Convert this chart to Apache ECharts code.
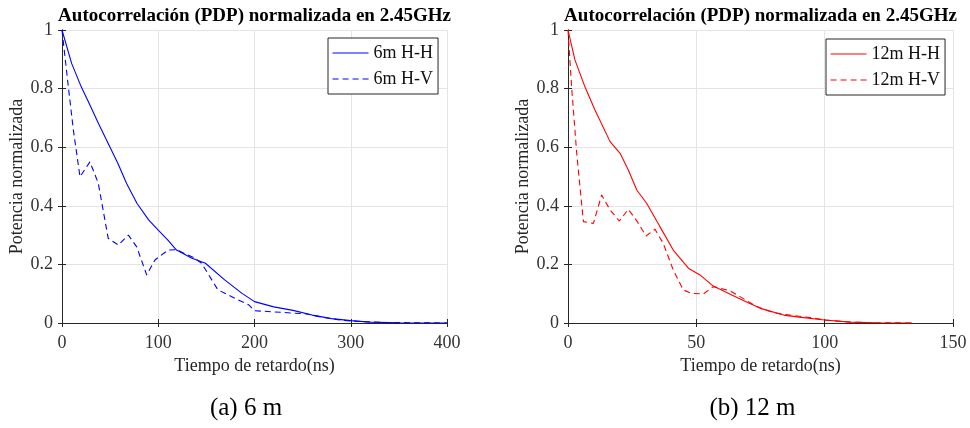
<!DOCTYPE html>
<html>
<head>
<meta charset="utf-8">
<script src="https://cdn.jsdelivr.net/npm/echarts@6/dist/echarts.min.js"></script>
<style>
html,body{margin:0;padding:0;background:#fff;}
#chart{width:970px;height:428px;}
</style>
</head>
<body>
<div id="chart"></div>
<script>
// ---- Data ----
const titleText = 'Autocorrelación (PDP) normalizada en 2.45GHz';
const xLabel = 'Tiempo de retardo(ns)';
const yLabel = 'Potencia normalizada';
const captionA = '(a) 6 m';
const captionB = '(b) 12 m';

const x6HH = [0, 10, 20, 29, 38, 48, 58, 67, 78, 90, 100, 110, 119, 135, 149, 169, 187, 200, 220, 240, 260, 280, 300, 320, 350, 400];
const y6HH = [1, 0.886, 0.806, 0.744, 0.68, 0.613, 0.545, 0.477, 0.408, 0.352, 0.317, 0.283, 0.249, 0.221, 0.204, 0.147, 0.101, 0.073, 0.055, 0.043, 0.027, 0.015, 0.008, 0.003, 0.001, 0];

const x6HV = [0, 6.6, 11.8, 18.7, 29, 37.7, 48, 58.5, 69, 77.6, 88, 96.6, 110, 119, 138, 145, 162, 180, 194, 200, 220, 254, 270, 289, 300, 330, 400];
const y6HV = [1, 0.806, 0.659, 0.499, 0.55, 0.477, 0.289, 0.266, 0.30, 0.26, 0.164, 0.215, 0.249, 0.25, 0.221, 0.204, 0.113, 0.084, 0.062, 0.042, 0.038, 0.031, 0.020, 0.010, 0.007, 0.002, 0];

const x12HH = [0, 2.7, 6.6, 10.5, 16.4, 20.3, 23.5, 26.8, 30.7, 35.8, 41, 46.9, 51.4, 56.6, 64, 70, 75, 84, 90, 100, 110, 120, 134];
const y12HH = [1, 0.898, 0.806, 0.727, 0.619, 0.579, 0.522, 0.454, 0.408, 0.329, 0.249, 0.187, 0.164, 0.126, 0.095, 0.07, 0.05, 0.027, 0.02, 0.01, 0.003, 0.001, 0];

const x12HV = [0, 1.4, 3.4, 6, 9.9, 13.1, 16.4, 20, 23.5, 27, 30.4, 33.9, 37.1, 41, 44.9, 48.2, 52.7, 56.6, 63.1, 67, 73.5, 80, 86.5, 95, 100, 110, 120, 134];
const y12HV = [1, 0.806, 0.579, 0.346, 0.34, 0.437, 0.386, 0.348, 0.388, 0.346, 0.297, 0.32, 0.272, 0.181, 0.113, 0.101, 0.099, 0.124, 0.11, 0.09, 0.056, 0.035, 0.027, 0.018, 0.01, 0.003, 0.001, 0];

const xMaxA = 400, xStepA = 100;
const xMaxB = 150, xStepB = 50;
const yStep = 0.2;

// ---- Styling helpers ----
const FONT = '"Liberation Serif", "Times New Roman", serif';
const AX = '#262626';
const GRIDC = '#e4e4e4';
const zip = (xs, ys) => xs.map((x, i) => [x, ys[i]]);

function mainX(gi, max, step) {
  return {
    gridIndex: gi, type: 'value', min: 0, max: max, interval: step, position: 'bottom',
    name: xLabel, nameLocation: 'middle', nameGap: 34,
    nameTextStyle: { fontFamily: FONT, fontSize: 18, color: AX },
    axisLine: { show: true, lineStyle: { color: AX, width: 1 } },
    axisTick: { show: true, inside: true, length: 4, lineStyle: { color: AX } },
    axisLabel: { fontFamily: FONT, fontSize: 18, color: '#333', margin: 11 },
    splitLine: { show: true, lineStyle: { color: GRIDC, width: 1 } }
  };
}
function topX(gi, max, step) {
  return {
    gridIndex: gi, type: 'value', min: 0, max: max, interval: step, position: 'top',
    axisLine: { show: true, lineStyle: { color: AX, width: 1 } },
    axisTick: { show: true, inside: true, length: 4, lineStyle: { color: AX } },
    axisLabel: { show: false }, splitLine: { show: false }
  };
}
function mainY(gi) {
  return {
    gridIndex: gi, type: 'value', min: 0, max: 1, interval: yStep, position: 'left',
    name: yLabel, nameLocation: 'middle', nameGap: 30,
    nameTextStyle: { fontFamily: FONT, fontSize: 18, color: AX },
    axisLine: { show: true, lineStyle: { color: AX, width: 1 } },
    axisTick: { show: true, inside: true, length: 4, lineStyle: { color: AX } },
    axisLabel: { fontFamily: FONT, fontSize: 18, color: '#333', margin: 9 },
    splitLine: { show: true, lineStyle: { color: GRIDC, width: 1 } }
  };
}
function rightY(gi) {
  return {
    gridIndex: gi, type: 'value', min: 0, max: 1, interval: yStep, position: 'right',
    axisLine: { show: true, lineStyle: { color: AX, width: 1 } },
    axisTick: { show: true, inside: true, length: 4, lineStyle: { color: AX } },
    axisLabel: { show: false }, splitLine: { show: false }
  };
}
function line(name, data, xi, yi, color, dashed) {
  return {
    name: name, type: 'line', xAxisIndex: xi, yAxisIndex: yi, data: data,
    symbol: 'none', showSymbol: false, smooth: false,
    lineStyle: { color: color, width: 1.1, type: dashed ? [6, 4] : 'solid' },
    itemStyle: { color: color }, z: 3
  };
}
function legend(names, left, top) {
  return {
    data: names, orient: 'vertical', left: left, top: top,
    padding: [6, 5, 6, 4], itemWidth: 36, itemHeight: 14, itemGap: 8,
    borderColor: AX, borderWidth: 1, backgroundColor: '#fff',
    itemStyle: { opacity: 0 },
    lineStyle: { width: 1.1 },
    textStyle: { fontFamily: FONT, fontSize: 18, color: '#111' },
    selectedMode: false
  };
}

const chart = echarts.init(document.getElementById('chart'), null, { renderer: 'canvas' });
chart.setOption({
  animation: false,
  backgroundColor: '#fff',
  grid: [
    { left: 62, top: 30, width: 385, height: 293, containLabel: false },
    { left: 568, top: 30, width: 385, height: 293, containLabel: false }
  ],
  xAxis: [mainX(0, xMaxA, xStepA), topX(0, xMaxA, xStepA), mainX(1, xMaxB, xStepB), topX(1, xMaxB, xStepB)],
  yAxis: [mainY(0), rightY(0), mainY(1), rightY(1)],
  legend: [
    legend(['6m H-H', '6m H-V'], 328, 38),
    legend(['12m H-H', '12m H-V'], 826, 39)
  ],
  series: [
    line('6m H-H', zip(x6HH, y6HH), 0, 0, '#0000ff', false),
    line('6m H-V', zip(x6HV, y6HV), 0, 0, '#0000ff', true),
    line('12m H-H', zip(x12HH, y12HH), 2, 2, '#ff0000', false),
    line('12m H-V', zip(x12HV, y12HV), 2, 2, '#ff0000', true)
  ],
  graphic: [
    { type: 'text', x: 254.5, y: 16, style: { text: titleText, font: 'bold 19px ' + FONT, fill: '#000', textAlign: 'center', textVerticalAlign: 'middle' } },
    { type: 'text', x: 760.5, y: 16, style: { text: titleText, font: 'bold 19px ' + FONT, fill: '#000', textAlign: 'center', textVerticalAlign: 'middle' } },
    { type: 'text', x: 246, y: 408, style: { text: captionA, font: '25px ' + FONT, fill: '#000', textAlign: 'center', textVerticalAlign: 'middle' } },
    { type: 'text', x: 752.5, y: 408, style: { text: captionB, font: '25px ' + FONT, fill: '#000', textAlign: 'center', textVerticalAlign: 'middle' } }
  ]
});
</script>
</body>
</html>
